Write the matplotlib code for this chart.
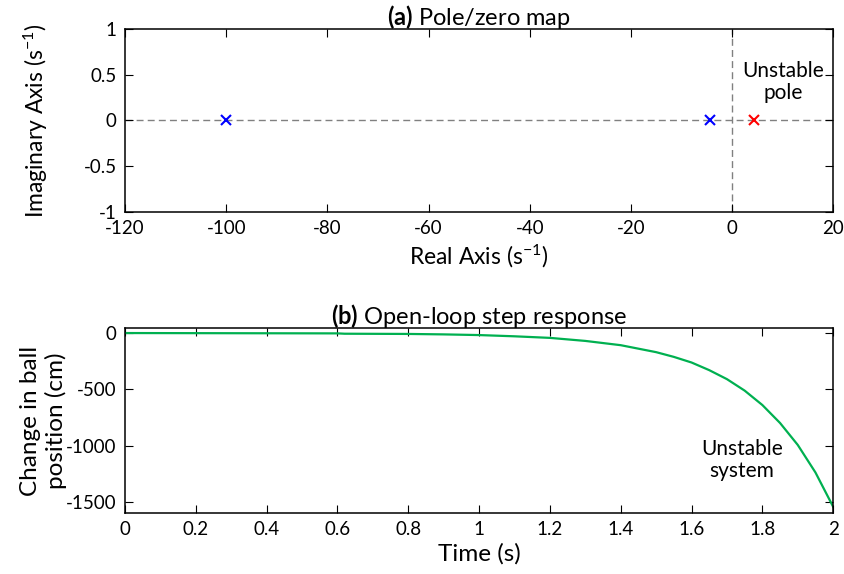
import matplotlib
matplotlib.use("Agg")
import matplotlib.pyplot as plt

plt.rcParams["font.family"] = ["Lato", "DejaVu Sans"]
plt.rcParams["mathtext.fontset"] = "custom"
plt.rcParams["mathtext.rm"] = "Lato"
plt.rcParams["mathtext.it"] = "Lato:italic"
plt.rcParams["mathtext.bf"] = "Lato:bold"

# pole locations (s^-1)
stable_poles_re = [-100.0, -4.43]
stable_poles_im = [0.0, 0.0]
unstable_pole_re = [4.43]
unstable_pole_im = [0.0]

# open-loop step response
t = [0.0, 0.2, 0.4, 0.6, 0.62, 0.8, 0.9, 1.0, 1.1, 1.2, 1.3, 1.4, 1.5,
     1.55, 1.6, 1.65, 1.7, 1.75, 1.8, 1.85, 1.9, 1.95, 2.0]
y = [0.0, -1.0, -2.0, -3.0, -6.0, -8.0, -12.0, -18.0, -29.0, -43.0, -70.0,
     -108.0, -170.0, -212.0, -262.0, -330.0, -410.0, -512.0, -640.0, -800.0,
     -995.0, -1240.0, -1545.0]

fig = plt.figure(figsize=(8.45, 5.74), dpi=100)
ax1 = fig.add_axes([0.148, 0.6307, 0.838, 0.3188])
ax2 = fig.add_axes([0.148, 0.1063, 0.838, 0.3223])

for ax in (ax1, ax2):
    ax.tick_params(direction="in", top=True, right=True, length=6,
                   width=0.8, labelsize=13.5, pad=6)
    for sp in ax.spines.values():
        sp.set_linewidth(1.1)

# (a) pole/zero map
ax1.axhline(0, color="#808080", ls=(0, (5, 3)), lw=1, zorder=1)
ax1.axvline(0, color="#808080", ls=(0, (5, 3)), lw=1, zorder=1)
ax1.plot(stable_poles_re, stable_poles_im, "x", color="#0000ff",
         ms=7.5, mew=1.5, zorder=3)
ax1.plot(unstable_pole_re, unstable_pole_im, "x", color="#ff0000",
         ms=7.5, mew=1.5, zorder=3)
ax1.set_xlim(-120, 20)
ax1.set_ylim(-1, 1)
ax1.set_xticks(range(-120, 21, 20))
ax1.set_yticks([-1, -0.5, 0, 0.5, 1])
ax1.set_yticklabels(["-1", "-0.5", "0", "0.5", "1"])
ax1.set_xticklabels([str(v) for v in range(-120, 21, 20)])
ax1.text(10.1, 0.42, "Unstable\npole", ha="center", va="center",
         fontsize=15, linespacing=1.15)
ax1.set_title(r"$\bf{(a)}$ Pole/zero map", fontsize=17, pad=3)
ax1.set_xlabel(r"Real Axis (s$^{-1}$)", fontsize=16.5)
ax1.set_ylabel(r"Imaginary Axis (s$^{-1}$)", fontsize=16.5)
ax1.xaxis.set_label_coords(0.5, -0.17)
ax1.yaxis.set_label_coords(-0.106, 0.5)

# (b) open-loop step response
ax2.plot(t, y, color="#00b050", lw=1.6)
ax2.set_xlim(0, 2)
ax2.set_ylim(-1600, 45)
ax2.set_xticks([0, 0.2, 0.4, 0.6, 0.8, 1, 1.2, 1.4, 1.6, 1.8, 2])
ax2.set_xticklabels(["0", "0.2", "0.4", "0.6", "0.8", "1", "1.2", "1.4",
                     "1.6", "1.8", "2"])
ax2.set_yticks([-1500, -1000, -500, 0])
ax2.set_yticklabels(["-1500", "-1000", "-500", "0"])
ax2.text(1.743, -1130, "Unstable\nsystem", ha="center", va="center",
         fontsize=15, linespacing=1.15)
ax2.set_title(r"$\bf{(b)}$ Open-loop step response", fontsize=17, pad=3)
ax2.set_xlabel("Time (s)", fontsize=17.5)
ax2.set_ylabel("Change in ball\nposition (cm)", fontsize=17.5,
               linespacing=1.2)
ax2.xaxis.set_label_coords(0.5, -0.165)
ax2.yaxis.set_label_coords(-0.082, 0.5)

fig.savefig("out.png", dpi=100)
